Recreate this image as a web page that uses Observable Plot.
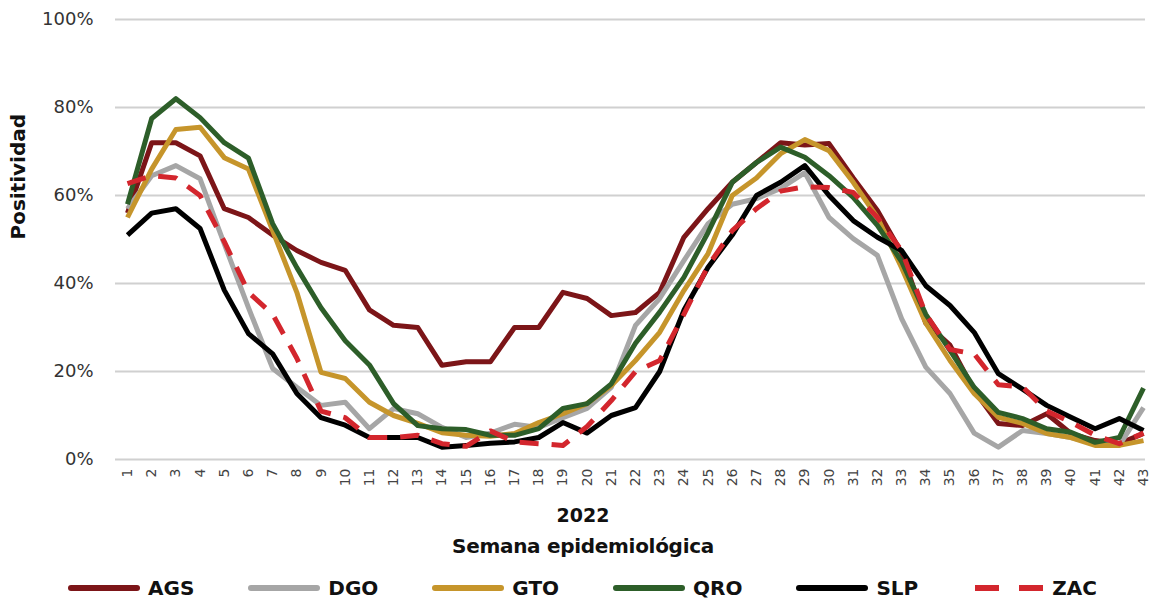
<!DOCTYPE html>
<html>
<head>
<meta charset="utf-8">
<script src="https://cdn.jsdelivr.net/npm/d3@7"></script>
<script src="https://cdn.jsdelivr.net/npm/@observablehq/plot@0.6"></script>
<style>
  html, body { margin: 0; padding: 0; background: #fff; }
  body { width: 1152px; height: 604px; overflow: hidden; font-family: "DejaVu Sans", sans-serif; color: #111; }
  .xt { text-align: center; font-weight: bold; font-size: 19px; height: 31px; line-height: 31px; padding-left: 14px; box-sizing: border-box; }
  .xt2 { font-size: 20px; letter-spacing: -0.3px; }
  .legend { display: flex; align-items: center; margin-left: 68px; margin-top: 8px; height: 36px; }
  .item { display: flex; align-items: center; margin-right: 54px; font-weight: bold; font-size: 20px; }
  .item svg { margin-right: 8px; }
</style>
</head>
<body>
<div id="chart"></div>
<div class="xt">2022</div>
<div class="xt xt2">Semana epidemiológica</div>
<div class="legend" id="legend"></div>
<script>
const weeks = d3.range(1, 44);
const states = ["AGS", "DGO", "GTO", "QRO", "SLP", "ZAC"];
const colors = ["#7c1518", "#a6a6a6", "#c6952b", "#2d5e29", "#000000", "#d3262d"];
const yTicks = [0, 20, 40, 60, 80, 100];

const AGS = [56, 72, 72, 69, 57, 55, 51, 47.5, 44.8, 43, 34, 30.5, 30, 21.4, 22.2, 22.2, 30, 30, 38, 36.6, 32.7, 33.4, 38, 50.5, 57, 63, 67.5, 72, 71.5, 71.8, 64, 56.6, 47, 31, 26, 15.7, 8.2, 7.7, 10.4, 5.9, 4.3, 3.6, 5.9];
const DGO = [57, 64.5, 66.8, 63.8, 49, 34.5, 20.7, 16.4, 12.3, 13, 7, 11.6, 10.4, 7.3, 5, 6, 8, 7.3, 9.5, 11.6, 16.4, 30.5, 36.6, 45.2, 53.6, 58, 59.3, 61.6, 65.2, 55, 50.2, 46.4, 32, 21, 15, 6, 2.8, 6.6, 5.9, 5, 3.6, 3.2, 11.8];
const GTO = [55, 66, 75, 75.5, 68.6, 66, 52, 38, 19.8, 18.4, 13, 10, 8.2, 6.1, 5.5, 5.3, 5.9, 8.4, 10.4, 12.7, 16.8, 22.5, 28.9, 38.4, 46.8, 60, 64, 69.5, 72.7, 70.2, 63, 55, 43.6, 31, 22.5, 15, 9.6, 8.2, 5.9, 5, 3.2, 3.2, 4.3];
const QRO = [58, 77.5, 82, 77.7, 72, 68.5, 53.6, 43.6, 34.5, 27, 21.5, 12.7, 7.7, 7, 6.8, 5.5, 5.5, 7, 11.6, 12.7, 17.2, 26.4, 33.5, 41.4, 51.6, 63, 67.5, 71, 68.7, 64.5, 59.6, 53.2, 45, 33, 24.8, 16.4, 10.7, 9.3, 7, 6.2, 3.9, 5, 16.2];
const SLP = [51, 56, 57, 52.5, 38.5, 28.6, 24, 15, 9.5, 7.8, 5, 5, 5, 2.8, 3.2, 3.7, 4, 5, 8.4, 6, 10, 11.8, 20, 33.9, 43.7, 51, 60, 63, 66.8, 60, 54.3, 50.5, 47.5, 39.5, 35, 28.9, 19.5, 16, 12.3, 9.6, 7, 9.3, 6.6];
const ZAC = [62.7, 64.5, 64, 60, 49.5, 38, 33, 23, 11, 9.5, 5, 5, 5.5, 3.6, 3, 6.5, 4, 3.6, 3.2, 7.5, 13.4, 20, 22.5, 33, 44, 52, 57, 61, 62, 61.8, 60.7, 55, 47.5, 33, 25, 24, 17, 16.5, 11, 8.5, 5.5, 3.6, 6];

const seriesValues = [AGS, DGO, GTO, QRO, SLP, ZAC];
const data = states.flatMap((s, i) => seriesValues[i].map((v, j) => ({state: s, week: weeks[j], value: v})));

const chart = Plot.plot({
  width: 1152,
  height: 500,
  marginLeft: 115,
  marginRight: 7,
  marginTop: 19,
  marginBottom: 41,
  style: {fontFamily: "DejaVu Sans, sans-serif", background: "white", color: "#333"},
  x: {domain: [1, 43], insetLeft: 12, insetRight: 2},
  y: {domain: [0, 100]},
  color: {domain: states, range: colors},
  marks: [
    Plot.gridY(yTicks, {stroke: "#d0d0d0", strokeOpacity: 1, strokeWidth: 2}),
    Plot.axisY(yTicks, {tickFormat: d => d + "%", tickSize: 0, tickPadding: 22, fontSize: 18, label: null}),
    Plot.axisX(weeks, {tickRotate: -90, tickSize: 0, tickPadding: 9, fontSize: 14, label: null, color: "#444"}),
    ...states.map((s, i) => Plot.line(data.filter(d => d.state === s), {
      x: "week", y: "value", stroke: colors[i], strokeWidth: 5,
      strokeDasharray: s === "ZAC" ? "19,13" : null,
      strokeLinejoin: "round", strokeLinecap: "butt"
    })),
    Plot.text(["Positividad"], {frameAnchor: "left", rotate: -90, dx: -97, fontSize: 20, fontWeight: "bold", fill: "#111"})
  ]
});
document.getElementById("chart").appendChild(chart);

const legend = document.getElementById("legend");
states.forEach((s, i) => {
  const item = document.createElement("div");
  item.className = "item";
  const dash = s === "ZAC" ? ' stroke-dasharray="24,20"' : '';
  item.innerHTML = `<svg width="72" height="10"><line x1="3" y1="5" x2="${s === "ZAC" ? 72 : 69}" y2="5" stroke="${colors[i]}" stroke-width="6" stroke-linecap="${s === "ZAC" ? "butt" : "round"}"${dash}/></svg><span>${s}</span>`;
  legend.appendChild(item);
});
</script>
</body>
</html>
